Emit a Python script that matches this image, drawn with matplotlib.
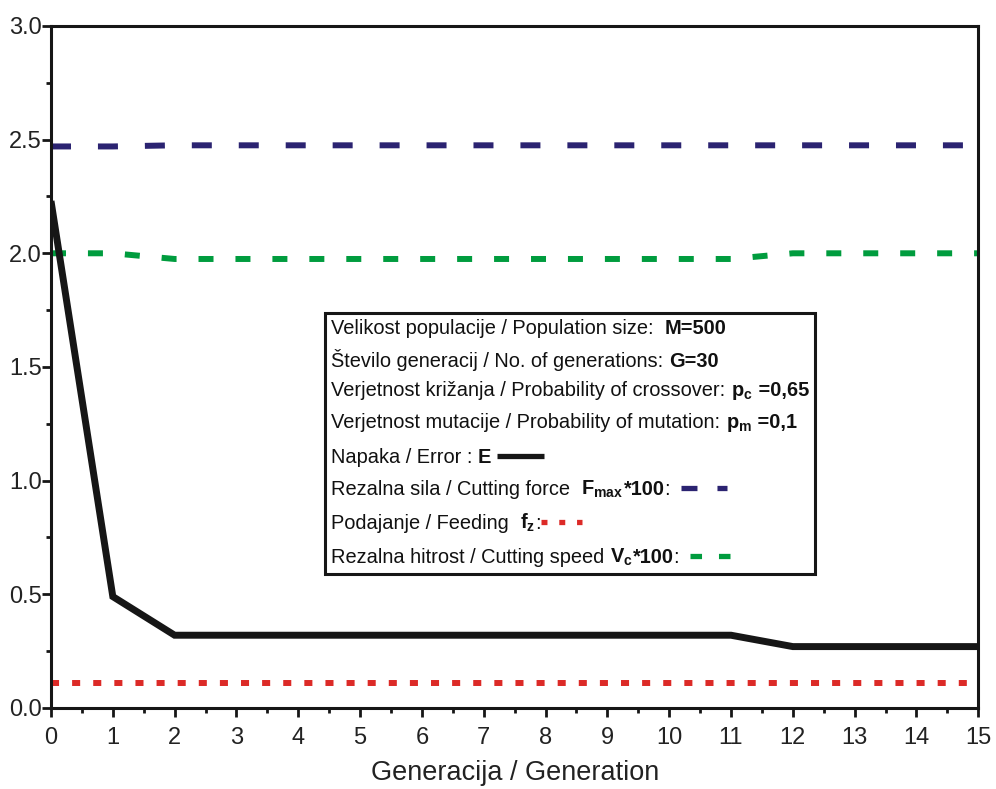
import numpy as np
import matplotlib
matplotlib.use("Agg")
from matplotlib import pyplot as plt
from matplotlib import font_manager
from matplotlib.lines import Line2D
from matplotlib.offsetbox import TextArea, DrawingArea, HPacker, VPacker, AnchoredOffsetbox
from matplotlib.ticker import MultipleLocator

# data
generations = np.arange(0, 16)
error   = [2.23, 0.49, 0.32, 0.32, 0.32, 0.32, 0.32, 0.32,
           0.32, 0.32, 0.32, 0.32, 0.27, 0.27, 0.27, 0.27]
force   = [2.47, 2.47, 2.475, 2.475, 2.475, 2.475, 2.475, 2.475,
           2.475, 2.475, 2.475, 2.475, 2.475, 2.475, 2.475, 2.475]
feeding = [0.11, 0.11, 0.11, 0.11, 0.11, 0.11, 0.11, 0.11,
           0.11, 0.11, 0.11, 0.11, 0.11, 0.11, 0.11, 0.11]
speed   = [2.0, 2.0, 1.975, 1.975, 1.975, 1.975, 1.975, 1.975,
           1.975, 1.975, 1.975, 1.975, 2.0, 2.0, 2.0, 2.0]

x_ticks = list(range(0, 16))
y_ticks = [0.0, 0.5, 1.0, 1.5, 2.0, 2.5, 3.0]

names = {f.name for f in font_manager.fontManager.ttflist}
narrow = 'Liberation Sans Narrow' if 'Liberation Sans Narrow' in names else 'Liberation Sans'
leg_size = 16 if narrow.endswith('Narrow') else 14.4

plt.rcParams['font.family'] = ['Liberation Sans', 'DejaVu Sans']
plt.rcParams['mathtext.fontset'] = 'custom'
plt.rcParams['mathtext.rm'] = narrow
plt.rcParams['mathtext.it'] = narrow + ':italic'
plt.rcParams['mathtext.bf'] = narrow + ':bold'
plt.rcParams['lines.scale_dashes'] = False

BLACK = '#161616'
BLUE = '#2b2371'
RED = '#dc2a27'
GREEN = '#009c3e'

styles = {
    'error': dict(color=BLACK, lw=5.0, ls='-', solid_capstyle='butt', solid_joinstyle='miter'),
    'force': dict(color=BLUE, lw=4.3, ls=(0, (14.4, 19.4)), dash_capstyle='butt'),
    'feed': dict(color=RED, lw=4.3, ls=(0, (5.8, 9.4)), dash_capstyle='butt'),
    'speed': dict(color=GREEN, lw=4.3, ls=(0, (10.8, 15.8)), dash_capstyle='butt'),
}
# line samples in the box are shorter than the plotted dashes
samples = {
    'error': dict(styles['error'], lw=3.8),
    'force': dict(styles['force'], lw=3.8, ls=(0, (11.5, 14.4))),
    'feed': dict(styles['feed'], lw=3.8, ls=(0, (4.3, 8.5))),
    'speed': dict(styles['speed'], lw=3.8, ls=(0, (8.3, 12.2))),
}

fig = plt.figure(figsize=(9.96, 7.89), dpi=100)
ax = fig.add_axes([0.0512, 0.1027, 0.9310, 0.8644])

ax.plot(generations, force, **styles['force'])
ax.plot(generations, speed, **styles['speed'])
ax.plot(generations, feeding, **styles['feed'])
ax.plot(generations, error, **styles['error'])

ax.set_xlim(0, 15)
ax.set_ylim(0, 3.0)
ax.set_xticks(x_ticks)
ax.set_yticks(y_ticks)
ax.set_yticklabels(['%.1f' % v for v in y_ticks])
ax.xaxis.set_minor_locator(MultipleLocator(0.5))
ax.yaxis.set_minor_locator(MultipleLocator(0.25))
ax.tick_params(which='major', direction='out', length=6.5, width=2, labelsize=17,
               colors=BLACK, labelcolor='#222222')
ax.tick_params(which='minor', direction='out', length=3.5, width=2, colors=BLACK)
ax.tick_params(axis='x', which='major', pad=7)
ax.tick_params(axis='y', which='major', pad=0)
for s in ax.spines.values():
    s.set_linewidth(2.2)
    s.set_color(BLACK)
ax.set_xlabel('Generacija / Generation', fontsize=19.5, color='#222222', labelpad=8)

# legend box: text first, line sample after it
tp = dict(fontsize=leg_size, family=narrow, color='#111111')
bp = dict(fontsize=leg_size, family=narrow, color='#111111', fontweight='bold')


def handle(key, width):
    da = DrawingArea(width, leg_size * 0.9, 0, 0)
    da.add_artist(Line2D([0, width], [leg_size * 0.35] * 2, **samples[key]))
    return da


rows = [
    [TextArea('Velikost populacije / Population size:  ', textprops=tp), TextArea('M=500', textprops=bp)],
    [TextArea('Število generacij / No. of generations: ', textprops=tp), TextArea('G=30', textprops=bp)],
    [TextArea('Verjetnost križanja / Probability of crossover: ', textprops=tp),
     TextArea(r'$\mathbf{p_c}$', textprops=tp), TextArea(' =0,65', textprops=bp)],
    [TextArea('Verjetnost mutacije / Probability of mutation: ', textprops=tp),
     TextArea(r'$\mathbf{p_m}$', textprops=tp), TextArea(' =0,1', textprops=bp)],
    [TextArea('Napaka / Error : ', textprops=tp), TextArea('E ', textprops=bp), handle('error', 34)],
    [TextArea('Rezalna sila / Cutting force  ', textprops=tp), TextArea(r'$\mathbf{F_{max}}$', textprops=tp),
     TextArea('*100', textprops=bp), TextArea(':  ', textprops=tp), handle('force', 33)],
    [TextArea('Podajanje / Feeding  ', textprops=tp), TextArea(r'$\mathbf{f_z}$', textprops=tp),
     TextArea(':', textprops=tp), handle('feed', 30)],
    [TextArea('Rezalna hitrost / Cutting speed ', textprops=tp), TextArea(r'$\mathbf{V_c}$', textprops=tp),
     TextArea('*100', textprops=bp), TextArea(':  ', textprops=tp), handle('speed', 29.5)],
]
packed = [HPacker(children=r, align='baseline', pad=0, sep=0) for r in rows]
box = VPacker(children=packed, align='left', pad=0, sep=7.6)
anch = AnchoredOffsetbox(loc='upper left', child=box, pad=0.45, borderpad=0,
                         bbox_to_anchor=(0.2956, 0.579), bbox_transform=ax.transAxes,
                         frameon=True)
anch.patch.set_boxstyle('square', pad=0)
anch.patch.set_linewidth(2.2)
anch.patch.set_edgecolor(BLACK)
ax.add_artist(anch)

fig.savefig('out.png', dpi=100)
